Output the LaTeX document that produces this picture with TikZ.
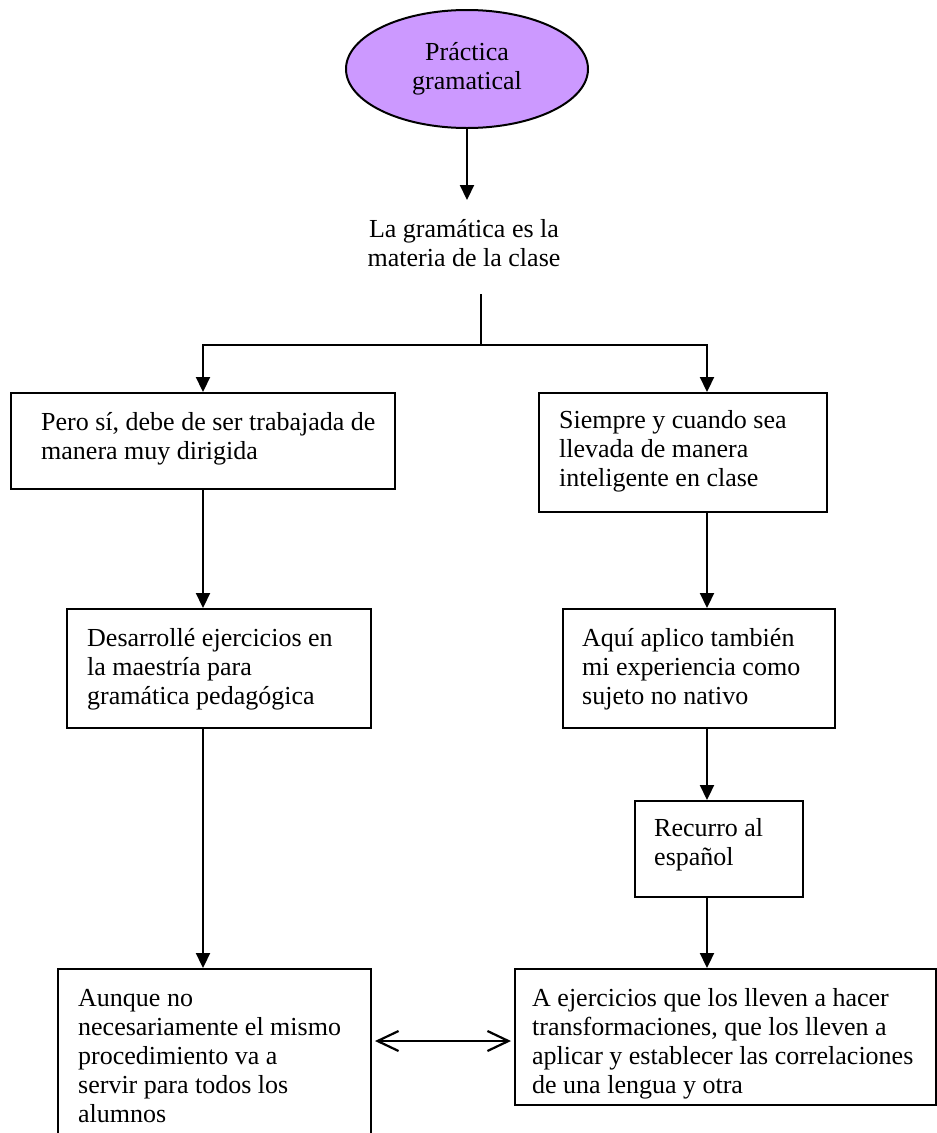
\documentclass[tikz,border=0pt]{standalone}
\usepackage{fontspec}
\setmainfont{Liberation Serif}
\usetikzlibrary{arrows.meta,shapes.geometric}
\definecolor{lavender}{HTML}{CC99FF}
\begin{document}
\begin{tikzpicture}[x=1pt,y=-1pt,
  every node/.style={font={\fontsize{26}{29}\selectfont}},
  box/.style={draw, line width=2pt, rectangle, inner sep=0pt},
  txt/.style={inner sep=0pt, align=left, anchor=north west},
  conn/.style={line width=2.2pt},
  arr/.style={conn, -{Triangle[length=15pt,width=14pt]}},
  dbl/.style={conn, {Straight Barb[length=21pt,width=20pt]}-{Straight Barb[length=21pt,width=20pt]}}
]
\useasboundingbox (0,0) rectangle (937,1133);
\clip (0,0) rectangle (937,1133);

% title ellipse and the statement below it
\node[draw, ellipse, fill=lavender, line width=2pt, minimum width=242pt,
      minimum height=118pt, inner sep=0pt, align=center] (ell) at (467,69)
      {Práctica\\gramatical};
\node[inner sep=0pt, align=center, anchor=north] (gram) at (464,216.7)
      {\strut La gramática es la\\materia de la clase};

% boxes
\node[box, minimum width=384pt, minimum height=96pt]  (lb1) at (203,441) {};
\node[box, minimum width=288pt, minimum height=119pt] (rb1) at (683,452.5) {};
\node[box, minimum width=304pt, minimum height=119pt] (lb2) at (219,668.5) {};
\node[box, minimum width=272pt, minimum height=119pt] (rb2) at (699,668.5) {};
\node[box, minimum width=168pt, minimum height=96pt]  (rec) at (719,849) {};
\node[box, minimum width=421pt, minimum height=136pt] (rb3) at (725.5,1037) {};
\node[box, minimum width=313pt, minimum height=190pt] (lb3) at (214.5,1064) {};

% box texts
\node[txt] (t1) at ([shift={(31,17.5)}]lb1.north west)
  {\strut Pero sí, debe de ser trabajada de\\manera muy dirigida};
\node[txt] (t2) at ([shift={(21,16)}]rb1.north west)
  {\strut Siempre y cuando sea\\llevada de manera\\inteligente en clase};
\node[txt] (t3) at ([shift={(21,17.5)}]lb2.north west)
  {\strut Desarrollé ejercicios en\\la maestría para\\gramática pedagógica};
\node[txt] (t4) at ([shift={(20,17.5)}]rb2.north west)
  {\strut Aquí aplico también\\mi experiencia como\\sujeto no nativo};
\node[txt] (t5) at ([shift={(20,15.5)}]rec.north west)
  {\strut Recurro al\\español};
\node[txt] (t6) at ([shift={(18,17.5)}]rb3.north west)
  {\strut A ejercicios que los lleven a hacer\\transformaciones, que los lleven a\\aplicar y establecer las correlaciones\\de una lengua y otra};
\node[txt] (t7) at ([shift={(21,17.5)}]lb3.north west)
  {\strut Aunque no\\necesariamente el mismo\\procedimiento va a\\servir para todos los\\alumnos};

% helper coordinates
\coordinate (stemtop) at (481,294);
\coordinate (fork) at (481,345);
\coordinate (rx) at (707,0);
\coordinate (dy) at (0,1041);

% connectors
\draw[arr, shorten >=16.7pt] (ell.south) -- (ell.south |- gram.north);
\draw[conn] (stemtop) -- (fork);
\draw[arr] (fork) -| (lb1.north);
\draw[arr] (fork) -| (rb1.north -| rx);
\draw[arr] (lb1.south) -- (lb2.north -| lb1.south);
\draw[arr] (lb1.south |- lb2.south) -- (lb3.north -| lb1.south);
\draw[arr] (rb1.south -| rx) -- (rb2.north -| rx);
\draw[arr] (rb2.south -| rx) -- (rec.north -| rx);
\draw[arr] (rec.south -| rx) -- (rb3.north -| rx);
\draw[dbl, shorten <=3pt, shorten >=3pt] (lb3.east |- dy) -- (rb3.west |- dy);
\end{tikzpicture}
\end{document}
